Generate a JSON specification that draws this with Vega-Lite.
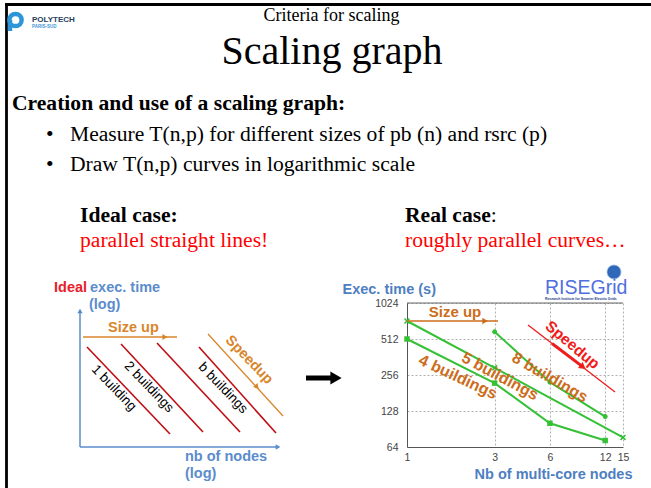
{
  "$schema": "https://vega.github.io/schema/vega-lite/v6.json",
  "padding": 0,
  "background": "white",
  "bounds": "flush",
  "spacing": 0,
  "config": {"view": {"stroke": null}},
  "vconcat": [
    {
      "width": 651,
      "height": 303,
      "encoding": {
        "x": {"field": "x", "type": "quantitative", "scale": {"domain": [0, 651], "nice": false, "zero": false}, "axis": null},
        "y": {"field": "y", "type": "quantitative", "scale": {"domain": [0, 303], "nice": false, "zero": false, "reverse": true}, "axis": null}
      },
      "layer": [
        {
          "data": {"values": [{"x": 5, "y": 4.5, "x2": 651, "y2": 4.5}, {"x": 6.5, "y": 4.5, "x2": 6.5, "y2": 488}]},
          "mark": {"type": "rule", "color": "black", "strokeWidth": 2.8},
          "encoding": {"x2": {"field": "x2"}, "y2": {"field": "y2"}}
        },
        {
          "data": {"values": [{"x": 15.5, "y": 20}]},
          "mark": {"type": "point", "shape": "circle", "filled": false, "stroke": "#2d96d8", "strokeWidth": 4.5, "size": 150, "opacity": 1}
        },
        {
          "data": {"values": [{"x": 10, "y": 20, "x2": 10, "y2": 31}]},
          "mark": {"type": "rule", "color": "#2d96d8", "strokeWidth": 4.5},
          "encoding": {"x2": {"field": "x2"}, "y2": {"field": "y2"}}
        },
        {
          "data": {"values": [{"x": 32, "y": 22, "text": "POLYTECH"}]},
          "mark": {"type": "text", "font": "Liberation Sans", "fontWeight": "bold", "fontSize": 8, "align": "left", "baseline": "alphabetic", "color": "#26415e", "letterSpacing": 0.3},
          "encoding": {"text": {"field": "text"}}
        },
        {
          "data": {"values": [{"x": 32, "y": 27.5, "text": "PARIS-SUD"}]},
          "mark": {"type": "text", "font": "Liberation Sans", "fontWeight": "bold", "fontSize": 4.5, "align": "left", "baseline": "alphabetic", "color": "#3a95d5"},
          "encoding": {"text": {"field": "text"}}
        },
        {
          "data": {"values": [{"x": 331.5, "y": 21, "text": "Criteria for scaling"}]},
          "mark": {"type": "text", "font": "Liberation Serif", "fontSize": 18, "align": "center", "baseline": "alphabetic", "color": "black"},
          "encoding": {"text": {"field": "text"}}
        },
        {
          "data": {"values": [{"x": 332, "y": 64, "text": "Scaling graph"}]},
          "mark": {"type": "text", "font": "Liberation Serif", "fontSize": 40, "align": "center", "baseline": "alphabetic", "color": "black"},
          "encoding": {"text": {"field": "text"}}
        },
        {
          "data": {"values": [
            {"x": 12, "y": 110, "text": "Creation and use of a scaling graph:"},
            {"x": 80, "y": 222, "text": "Ideal case:"},
            {"x": 405, "y": 222, "text": "Real case"}
          ]},
          "mark": {"type": "text", "font": "Liberation Serif", "fontWeight": "bold", "fontSize": 21.6, "align": "left", "baseline": "alphabetic", "color": "black"},
          "encoding": {"text": {"field": "text"}}
        },
        {
          "data": {"values": [
            {"x": 46, "y": 141, "text": "•"},
            {"x": 46, "y": 171, "text": "•"},
            {"x": 70, "y": 141, "text": "Measure T(n,p) for different sizes of pb (n) and rsrc (p)"},
            {"x": 70, "y": 171, "text": "Draw T(n,p) curves in logarithmic scale"},
            {"x": 490.8, "y": 222, "text": ":"}
          ]},
          "mark": {"type": "text", "font": "Liberation Serif", "fontSize": 21.6, "align": "left", "baseline": "alphabetic", "color": "black"},
          "encoding": {"text": {"field": "text"}}
        },
        {
          "data": {"values": [
            {"x": 80, "y": 247, "text": "parallel straight lines!"},
            {"x": 405, "y": 247, "text": "roughly parallel curves…"}
          ]},
          "mark": {"type": "text", "font": "Liberation Serif", "fontSize": 21.6, "align": "left", "baseline": "alphabetic", "color": "#ff0000"},
          "encoding": {"text": {"field": "text"}}
        },
        {
          "data": {"values": [{"x": 614, "y": 272}]},
          "mark": {"type": "point", "shape": "circle", "filled": true, "fill": "#2f68b8", "stroke": "#a9c4ea", "strokeWidth": 0.8, "size": 200, "opacity": 1}
        },
        {
          "data": {"values": [{"x": 545, "y": 294, "text": "RISEGrid"}]},
          "mark": {"type": "text", "font": "Liberation Sans", "fontSize": 19.5, "align": "left", "baseline": "alphabetic", "color": "#4f6fe0"},
          "encoding": {"text": {"field": "text"}}
        },
        {
          "data": {"values": [{"x": 545, "y": 300, "text": "Research Institute for Smarter Electric Grids"}]},
          "mark": {"type": "text", "font": "Liberation Sans", "fontWeight": "bold", "fontSize": 3.4, "align": "left", "baseline": "alphabetic", "color": "#203a8a"},
          "encoding": {"text": {"field": "text"}}
        }
      ]
    },
    {
      "spacing": 0,
      "bounds": "flush",
      "hconcat": [
        {
          "width": 407,
          "height": 144,
          "encoding": {
            "x": {"field": "x", "type": "quantitative", "scale": {"domain": [0, 407], "nice": false, "zero": false}, "axis": null},
            "y": {"field": "y", "type": "quantitative", "scale": {"domain": [303, 447], "nice": false, "zero": false, "reverse": true}, "axis": null}
          },
          "layer": [
            {
              "data": {"values": [{"x": 80, "y": 447, "x2": 80, "y2": 313}, {"x": 80, "y": 447, "x2": 276, "y2": 447}]},
              "mark": {"type": "rule", "color": "#5b8ccc", "strokeWidth": 1.5},
              "encoding": {"x2": {"field": "x2"}, "y2": {"field": "y2"}}
            },
            {
              "data": {"values": [{"x": 80, "y": 311}]},
              "mark": {"type": "point", "shape": "triangle-up", "filled": true, "color": "#5b8ccc", "size": 28, "opacity": 1}
            },
            {
              "data": {"values": [{"x": 278, "y": 447}]},
              "mark": {"type": "point", "shape": "triangle-right", "filled": true, "color": "#5b8ccc", "size": 28, "opacity": 1}
            },
            {
              "data": {"values": [{"x": 54, "y": 288, "text": "Ideal"}]},
              "mark": {"type": "text", "font": "Liberation Sans", "fontWeight": "bold", "fontSize": 14.5, "align": "left", "baseline": "middle", "color": "#e8202a"},
              "encoding": {"text": {"field": "text"}}
            },
            {
              "data": {"values": [
                {"x": 90, "y": 288, "text": "exec. time"},
                {"x": 89, "y": 305, "text": "(log)"},
                {"x": 185, "y": 457, "text": "nb of nodes"},
                {"x": 185, "y": 474, "text": "(log)"}
              ]},
              "mark": {"type": "text", "font": "Liberation Sans", "fontWeight": "bold", "fontSize": 14.5, "align": "left", "baseline": "middle", "color": "#5b8ccc"},
              "encoding": {"text": {"field": "text"}}
            },
            {
              "data": {"values": [{"x": 108, "y": 328, "text": "Size up"}]},
              "mark": {"type": "text", "font": "Liberation Sans", "fontWeight": "bold", "fontSize": 14.5, "align": "left", "baseline": "middle", "color": "#d9862b"},
              "encoding": {"text": {"field": "text"}}
            },
            {
              "data": {"values": [{"x": 83, "y": 337, "x2": 177, "y2": 337}, {"x": 208, "y": 334, "x2": 283, "y2": 416}]},
              "mark": {"type": "rule", "color": "#d9862b", "strokeWidth": 1.3},
              "encoding": {"x2": {"field": "x2"}, "y2": {"field": "y2"}}
            },
            {
              "data": {"values": [{"x": 165, "y": 337}]},
              "mark": {"type": "point", "shape": "triangle-right", "filled": true, "color": "#d9862b", "size": 35, "opacity": 1}
            },
            {
              "data": {"values": [{"x": 257, "y": 387}]},
              "mark": {"type": "point", "shape": "triangle-right", "filled": true, "color": "#d9862b", "size": 35, "opacity": 1, "angle": 47.5}
            },
            {
              "data": {"values": [
                {"buildings": "1", "x": 87, "y": 347, "x2": 170, "y2": 434},
                {"buildings": "2", "x": 121, "y": 344, "x2": 203, "y2": 432},
                {"buildings": "4", "x": 157, "y": 343, "x2": 240, "y2": 432},
                {"buildings": "b", "x": 199, "y": 347, "x2": 276, "y2": 433}
              ]},
              "mark": {"type": "rule", "color": "#c00d14"},
              "encoding": {
                "x2": {"field": "x2"},
                "y2": {"field": "y2"},
                "strokeWidth": {"field": "buildings", "type": "ordinal", "scale": {"domain": ["1", "2", "4", "b"], "range": [1.6, 1.6, 3.2, 5.5]}, "legend": null}
              }
            },
            {
              "data": {"values": [
                {"x": 114, "y": 388, "text": "1 building"},
                {"x": 149, "y": 387, "text": "2 buildings"},
                {"x": 223, "y": 388, "text": "b buildings"}
              ]},
              "mark": {"type": "text", "font": "Liberation Sans", "fontSize": 13.5, "align": "center", "baseline": "middle", "color": "black", "angle": 46},
              "encoding": {"text": {"field": "text"}}
            },
            {
              "data": {"values": [{"x": 249, "y": 360, "text": "Speedup"}]},
              "mark": {"type": "text", "font": "Liberation Sans", "fontWeight": "bold", "fontSize": 14.5, "align": "center", "baseline": "middle", "color": "#d9862b", "angle": 46},
              "encoding": {"text": {"field": "text"}}
            },
            {
              "data": {"values": [{"x": 306, "y": 378, "x2": 332, "y2": 378}]},
              "mark": {"type": "rule", "color": "black", "strokeWidth": 5},
              "encoding": {"x2": {"field": "x2"}, "y2": {"field": "y2"}}
            },
            {
              "data": {"values": [{"x": 336, "y": 378}]},
              "mark": {"type": "point", "shape": "triangle-right", "filled": true, "color": "black", "size": 170, "opacity": 1}
            }
          ]
        },
        {
          "width": 216,
          "height": 144,
          "encoding": {
            "x": {
              "field": "nodes", "type": "quantitative",
              "scale": {"type": "log", "domain": [1, 15], "nice": false},
              "axis": {
                "values": [1, 3, 6, 12, 15], "format": "d", "grid": true, "gridColor": "#b0b0b0", "gridDash": [2, 2], "gridWidth": 1,
                "domainColor": "#555", "domainWidth": 1, "ticks": false, "labelPadding": 5, "labelFont": "Liberation Sans",
                "labelFontSize": 10.5, "labelColor": "#444", "labelFlush": false, "labelOverlap": false,
                "title": "Nb of multi-core nodes", "titleFont": "Liberation Sans", "titleFontSize": 14.5, "titleFontWeight": "bold",
                "titleColor": "#4e7fc1", "titleX": 225, "titleY": 27, "titleAlign": "right", "titleBaseline": "middle"
              }
            },
            "y": {
              "field": "time", "type": "quantitative",
              "scale": {"type": "log", "base": 2, "domain": [64, 1024], "nice": false},
              "axis": {
                "values": [64, 128, 256, 512, 1024], "format": "d", "grid": true, "gridColor": "#b0b0b0", "gridDash": [2, 2], "gridWidth": 1,
                "domainColor": "#555", "domainWidth": 1, "ticks": false, "labelPadding": 9, "labelFont": "Liberation Sans",
                "labelFontSize": 10.5, "labelColor": "#444", "labelOverlap": false,
                "title": "Exec. time (s)", "titleFont": "Liberation Sans", "titleFontSize": 14.5, "titleFontWeight": "bold",
                "titleColor": "#4e7fc1", "titleAngle": 0, "titleX": -65, "titleY": -14, "titleAlign": "left", "titleBaseline": "middle"
              }
            }
          },
          "layer": [
            {
              "data": {"values": [{"nodes": 1, "nodes2": 15, "time": 1024}]},
              "mark": {"type": "rule", "color": "#666", "strokeWidth": 1},
              "encoding": {"x2": {"field": "nodes2"}}
            },
            {
              "data": {"name": "measures", "values": [
                {"series": "4 buildings", "nodes": 1, "time": 512},
                {"series": "4 buildings", "nodes": 3, "time": 219},
                {"series": "4 buildings", "nodes": 6, "time": 101},
                {"series": "4 buildings", "nodes": 12, "time": 72.5},
                {"series": "5 buildings", "nodes": 1, "time": 724},
                {"series": "5 buildings", "nodes": 3, "time": 294},
                {"series": "5 buildings", "nodes": 15, "time": 77},
                {"series": "8 buildings", "nodes": 3, "time": 589},
                {"series": "8 buildings", "nodes": 6, "time": 223},
                {"series": "8 buildings", "nodes": 12, "time": 115}
              ]},
              "layer": [
                {
                  "mark": {"type": "line", "color": "#35c035", "strokeWidth": 2},
                  "encoding": {"detail": {"field": "series"}}
                },
                {
                  "transform": [{"filter": "datum.series === '4 buildings'"}],
                  "mark": {"type": "point", "shape": "square", "filled": true, "color": "#35c035", "size": 30, "opacity": 1}
                },
                {
                  "transform": [{"filter": "datum.series !== '4 buildings'"}],
                  "mark": {"type": "point", "filled": false, "color": "#35c035", "strokeWidth": 1.6, "size": 24, "opacity": 1},
                  "encoding": {
                    "shape": {"field": "series", "type": "nominal", "scale": {"domain": ["5 buildings", "8 buildings"], "range": ["M-1,-1L1,1M-1,1L1,-1", "M-1,0L1,0M0,-1L0,1M-0.7,-0.7L0.7,0.7M-0.7,0.7L0.7,-0.7"]}, "legend": null}
                  }
                }
              ]
            },
            {
              "data": {"values": [{"nodes": 1, "nodes2": 3.13, "time": 724}]},
              "mark": {"type": "rule", "color": "#cc6d1c", "strokeWidth": 1.5},
              "encoding": {"x2": {"field": "nodes2"}}
            },
            {
              "data": {"values": [{"nodes": 2.66, "time": 724}]},
              "mark": {"type": "point", "shape": "triangle-right", "filled": true, "color": "#cc6d1c", "size": 40, "opacity": 1}
            },
            {
              "data": {"values": [{"nodes": 1.825, "time": 861, "text": "Size up"}]},
              "mark": {"type": "text", "font": "Liberation Sans", "fontWeight": "bold", "fontSize": 15, "align": "center", "baseline": "middle", "color": "#cc6d1c"},
              "encoding": {"text": {"field": "text"}}
            },
            {
              "data": {"values": [{"nodes": 1.895, "time": 246, "text": "4 buildings"}]},
              "mark": {"type": "text", "font": "Liberation Sans", "fontWeight": "bold", "fontSize": 16, "align": "center", "baseline": "middle", "color": "#cc6d1c", "angle": 25},
              "encoding": {"text": {"field": "text"}}
            },
            {
              "data": {"values": [{"nodes": 3.21, "time": 249, "text": "5 buildings"}]},
              "mark": {"type": "text", "font": "Liberation Sans", "fontWeight": "bold", "fontSize": 16, "align": "center", "baseline": "middle", "color": "#cc6d1c", "angle": 28},
              "encoding": {"text": {"field": "text"}}
            },
            {
              "data": {"values": [{"nodes": 6.0, "time": 244, "text": "8 buildings"}]},
              "mark": {"type": "text", "font": "Liberation Sans", "fontWeight": "bold", "fontSize": 16, "align": "center", "baseline": "middle", "color": "#cc6d1c", "angle": 30},
              "encoding": {"text": {"field": "text"}}
            },
            {
              "data": {"values": [{"nodes": 4.56, "nodes2": 13.57, "time": 670, "time2": 184.6}]},
              "mark": {"type": "rule", "color": "#f01c1c", "strokeWidth": 1.3},
              "encoding": {"x2": {"field": "nodes2"}, "y2": {"field": "time2"}}
            },
            {
              "data": {"values": [{"nodes": 6.16, "nodes2": 9.0, "time": 469, "time2": 302}]},
              "mark": {"type": "rule", "color": "#f01c1c", "strokeWidth": 3},
              "encoding": {"x2": {"field": "nodes2"}, "y2": {"field": "time2"}}
            },
            {
              "data": {"values": [{"nodes": 9.08, "time": 298.6}]},
              "mark": {"type": "point", "shape": "triangle-right", "filled": true, "color": "#f01c1c", "size": 60, "opacity": 1, "angle": 37.6}
            },
            {
              "data": {"values": [{"nodes": 7.96, "time": 456, "text": "Speedup"}]},
              "mark": {"type": "text", "font": "Liberation Sans", "fontWeight": "bold", "fontSize": 15.5, "align": "center", "baseline": "middle", "color": "#f01c1c", "angle": 40},
              "encoding": {"text": {"field": "text"}}
            }
          ]
        }
      ]
    }
  ]
}
